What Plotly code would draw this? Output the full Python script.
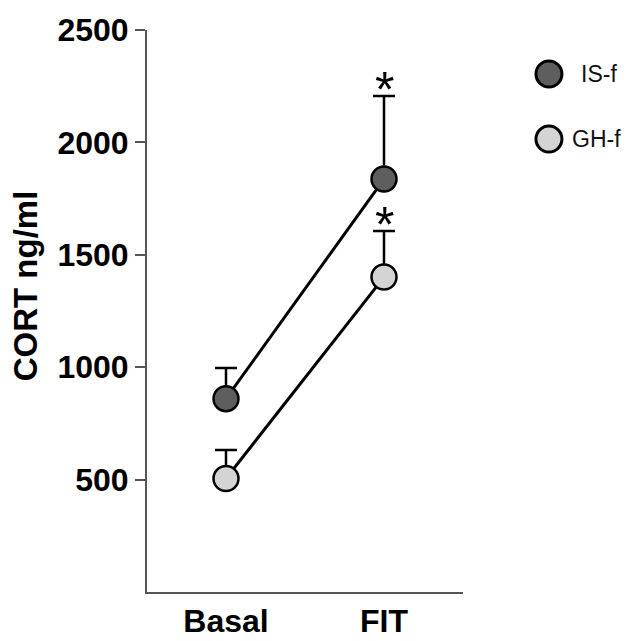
import plotly.graph_objects as go

categories = ["Basal", "FIT"]
is_f_mean = [860, 1837]
is_f_err = [136, 369]
gh_f_mean = [505, 1401]
gh_f_err = [127, 205]
y_ticks = [500, 1000, 1500, 2000, 2500]
series_names = ["IS-f", "GH-f"]
series_colors = ["#5e5e5e", "#d4d4d4"]

FONT = "Arial, Liberation Sans, sans-serif"
x_pos = list(range(len(categories)))

fig = go.Figure()
for mean, err, color, name in [(is_f_mean, is_f_err, series_colors[0], series_names[0]),
                               (gh_f_mean, gh_f_err, series_colors[1], series_names[1])]:
    fig.add_trace(go.Scatter(
        x=x_pos, y=mean, mode="lines+markers", name=name, showlegend=False,
        line=dict(color="black", width=3),
        marker=dict(size=25, color=color, line=dict(color="black", width=2.5)),
        error_y=dict(type="data", symmetric=False, array=err, arrayminus=[0] * len(err),
                     color="black", thickness=2.5, width=11),
    ))

# significance asterisks at FIT
for mean, err in [(is_f_mean, is_f_err), (gh_f_mean, gh_f_err)]:
    fig.add_annotation(x=x_pos[1], y=mean[1] + err[1], xref="x", yref="y",
                       text="*", showarrow=False, yanchor="bottom", yshift=-24,
                       font=dict(family=FONT, size=50, color="black"))

# y-axis title
fig.add_annotation(x=-0.386, y=0.544, xref="paper", yref="paper", text="CORT ng/ml",
                   textangle=-90, showarrow=False, xanchor="center", yanchor="middle",
                   borderpad=0,
                   font=dict(family=FONT, size=33, color="black", weight="bold"))

# legend
leg_y = [0.9217, 0.806]
leg_tx = [1.367, 1.338]
for i, name in enumerate(series_names):
    fig.add_shape(type="circle", xref="paper", yref="paper",
                  xsizemode="pixel", ysizemode="pixel",
                  xanchor=1.272, yanchor=leg_y[i], x0=-13, x1=13, y0=-13, y1=13,
                  fillcolor=series_colors[i], line=dict(color="black", width=3))
    fig.add_annotation(x=leg_tx[i], y=leg_y[i], xref="paper", yref="paper", text=name,
                       showarrow=False, xanchor="left", yanchor="middle",
                       font=dict(family=FONT, size=23, color="#111111"))

fig.update_layout(
    width=623, height=633,
    margin=dict(l=139, r=168, t=22, b=49),
    paper_bgcolor="white", plot_bgcolor="white",
    showlegend=False,
    font=dict(family=FONT, color="black"),
)
fig.update_xaxes(range=[-0.5, 1.5], tickvals=x_pos, ticktext=categories,
                 showgrid=False, zeroline=False, showline=True, linecolor="#555555",
                 linewidth=2, ticks="", ticklabelstandoff=0, automargin=False,
                 tickfont=dict(family=FONT, size=32, color="black", weight="bold"))
fig.update_yaxes(range=[0, 2500], tickvals=y_ticks, automargin=False,
                 showgrid=False, zeroline=False, showline=True, linecolor="#555555",
                 linewidth=2, ticks="outside", ticklen=10, tickwidth=2, tickcolor="#555555",
                 tickfont=dict(family=FONT, size=32, color="black", weight="bold"))

fig.write_html("out.html")
